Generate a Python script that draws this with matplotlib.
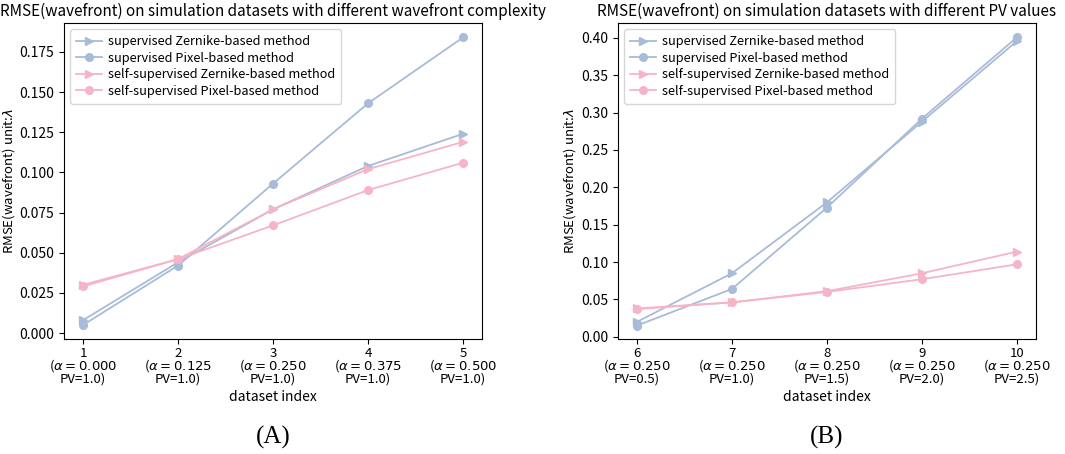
import matplotlib
matplotlib.use("Agg")
import matplotlib.pyplot as plt

blue = '#a8bbd8'
pink = '#f6b5c7'

labels = ['supervised Zernike-based method', 'supervised Pixel-based method',
          'self-supervised Zernike-based method', 'self-supervised Pixel-based method']

# panel A
idx_a = [1, 2, 3, 4, 5]
ticks_a = ['1\n($\\alpha=0.000$\nPV=1.0)', '2\n($\\alpha=0.125$\nPV=1.0)',
           '3\n($\\alpha=0.250$\nPV=1.0)', '4\n($\\alpha=0.375$\nPV=1.0)',
           '5\n($\\alpha=0.500$\nPV=1.0)']
sup_zer_a = [0.008, 0.044, 0.077, 0.104, 0.124]
sup_pix_a = [0.005, 0.042, 0.093, 0.143, 0.184]
self_zer_a = [0.030, 0.046, 0.077, 0.102, 0.119]
self_pix_a = [0.029, 0.046, 0.067, 0.089, 0.106]

# panel B
idx_b = [6, 7, 8, 9, 10]
ticks_b = ['6\n($\\alpha=0.250$\nPV=0.5)', '7\n($\\alpha=0.250$\nPV=1.0)',
           '8\n($\\alpha=0.250$\nPV=1.5)', '9\n($\\alpha=0.250$\nPV=2.0)',
           '10\n($\\alpha=0.250$\nPV=2.5)']
sup_zer_b = [0.020, 0.085, 0.180, 0.288, 0.396]
sup_pix_b = [0.015, 0.064, 0.173, 0.292, 0.401]
self_zer_b = [0.038, 0.046, 0.061, 0.085, 0.114]
self_pix_b = [0.037, 0.046, 0.060, 0.077, 0.097]

plt.rcParams['font.family'] = ['Noto Sans CJK JP', 'DejaVu Sans']
plt.rcParams['mathtext.fontset'] = 'dejavusans'
plt.rcParams['font.size'] = 10

fig = plt.figure(figsize=(10.65, 4.54), dpi=100)
ax1 = fig.add_axes([64 / 1065, 1 - 339 / 454, 418 / 1065, 316 / 454])
ax2 = fig.add_axes([618 / 1065, 1 - 339 / 454, 418 / 1065, 316 / 454])


def draw(ax, idx, ticks, series, title, letter):
    styles = [(blue, '>'), (blue, 'o'), (pink, '>'), (pink, 'o')]
    for ys, (c, m), lab in zip(series, styles, labels):
        ax.plot(idx, ys, color=c, marker=m, markersize=5.5, linewidth=1.3, label=lab)
    ax.set_xticks(idx)
    ax.set_xticklabels(ticks, linespacing=0.82, fontsize=9.5)
    ax.tick_params(axis='x', pad=2)
    ax.set_xlabel('dataset index', labelpad=3)
    ax.set_ylabel('RMSE(wavefront) unit:$\\lambda$', labelpad=2, fontsize=9.5)
    ax.set_title(title, fontsize=11, pad=5)
    ax.legend(loc='upper left', fontsize=9.2, handlelength=2.0, labelspacing=0.28,
              borderpad=0.45, handletextpad=0.5)
    ax.text(0.5, -0.31, letter, transform=ax.transAxes, ha='center', va='center',
            fontsize=18, family='Liberation Serif')


draw(ax1, idx_a, ticks_a, [sup_zer_a, sup_pix_a, self_zer_a, self_pix_a],
     'RMSE(wavefront) on simulation datasets with different wavefront complexity', '(A)')
ax1.set_yticks([0, 0.025, 0.05, 0.075, 0.1, 0.125, 0.15, 0.175])
ax1.set_ylim(-0.0037, 0.193)

draw(ax2, idx_b, ticks_b, [sup_zer_b, sup_pix_b, self_zer_b, self_pix_b],
     'RMSE(wavefront) on simulation datasets with different PV values', '(B)')
ax2.set_ylim(-0.003, 0.420)

fig.savefig('out.png', dpi=100)
